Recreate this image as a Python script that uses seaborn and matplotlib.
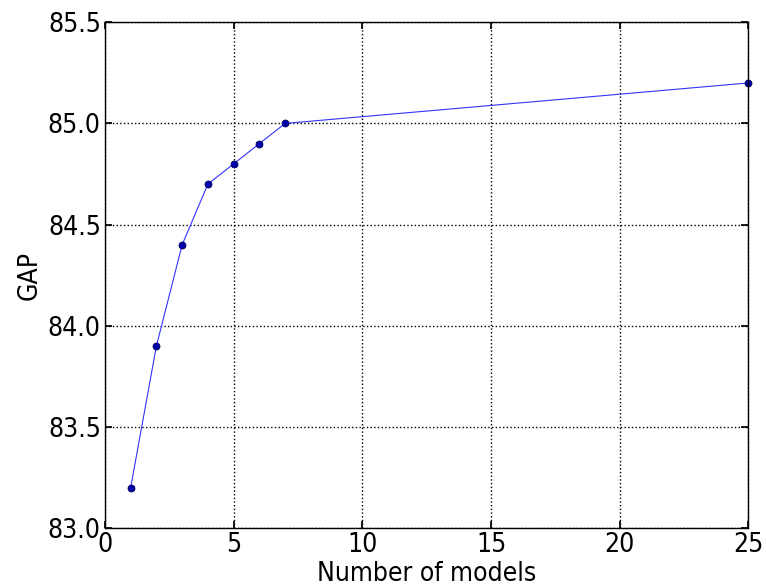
import matplotlib
matplotlib.use("Agg")
import matplotlib.pyplot as plt
import seaborn as sns
import pandas as pd

num_models = [1, 2, 3, 4, 5, 6, 7, 25]
gap = [83.2, 83.9, 84.4, 84.7, 84.8, 84.9, 85.0, 85.2]

sns.set_theme(style="white")
plt.rcParams['font.family'] = ['DejaVu Sans']
plt.rcParams['font.stretch'] = 'condensed'
plt.rcParams['xtick.direction'] = 'in'
plt.rcParams['ytick.direction'] = 'in'

df = pd.DataFrame({'models': num_models, 'GAP': gap})

fig = plt.figure(figsize=(7.66, 5.86), dpi=100)
ax = fig.add_axes([0.137, 0.099, 0.840, 0.863])

sns.lineplot(data=df, x='models', y='GAP', ax=ax, color='#3333ff', linewidth=0.8,
             marker='o', markersize=5, markerfacecolor='#0000aa',
             markeredgecolor='#000060', markeredgewidth=0.6, clip_on=False)

ax.set_xlim(0, 25)
ax.set_ylim(83.0, 85.5)
ax.set_xticks([0, 5, 10, 15, 20, 25])
ax.set_yticks([83.0, 83.5, 84.0, 84.5, 85.0, 85.5])
ax.set_yticklabels(['83.0', '83.5', '84.0', '84.5', '85.0', '85.5'])
ax.grid(True, color='black', linestyle=':', linewidth=1.0)
ax.tick_params(labelsize=19, length=5, pad=3, color='black', labelcolor='black',
               bottom=True, left=True, top=True, right=True)
for s in ax.spines.values():
    s.set_color('black')
    s.set_linewidth(1.0)
ax.set_xlabel('Number of models', fontsize=19, color='black', labelpad=2)
ax.set_ylabel('GAP', fontsize=19, color='black', labelpad=4)

fig.savefig('out.png', dpi=100)
